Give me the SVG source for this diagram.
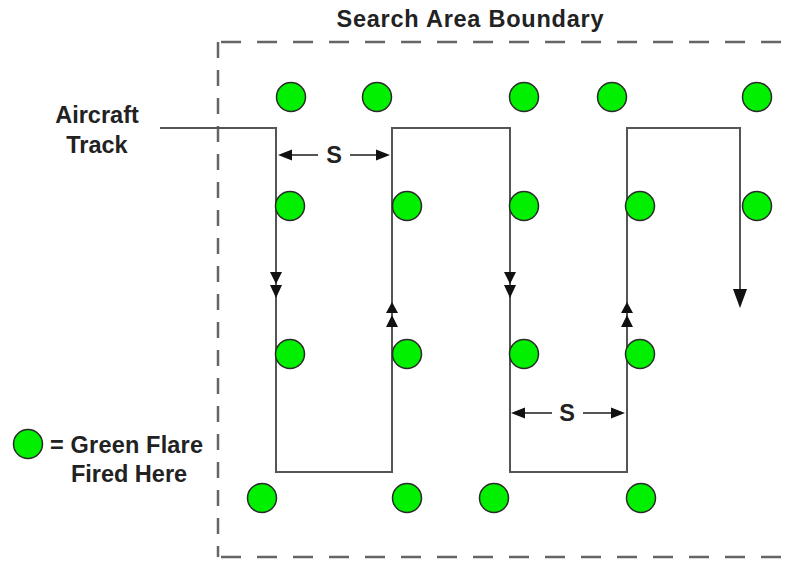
<svg xmlns="http://www.w3.org/2000/svg" width="790" height="561" viewBox="0 0 790 561">
<style>
.t{font-family:"Liberation Sans",Arial,sans-serif;font-weight:bold;font-size:23.5px;fill:#222}
.flare{fill:#00f000;stroke:#2a2a2a;stroke-width:1.5}
.trk{fill:none;stroke:#555;stroke-width:2}
.bnd{fill:none;stroke:#666;stroke-width:2.5}
.ah{fill:#111}
</style>
<rect width="790" height="561" fill="#fff"/>
<g id="boundary">
<path class="bnd" d="M221,42 H790" stroke-dasharray="20 16"/>
<path class="bnd" d="M218,42 V557" stroke-dasharray="16 12"/>
<path class="bnd" d="M221,557 H790" stroke-dasharray="20 16"/>
<text class="t" x="470" y="27" text-anchor="middle" textLength="267" lengthAdjust="spacing">Search Area Boundary</text>
</g>
<g id="connectors">
<path class="trk" d="M160,128 H276 V472 H392 V128 H510 V472 H627 V128 H740 V300"/>
<path class="ah" d="M733,289 L747,289 L740,308 Z"/>
<path class="ah" d="M270,272 L282,272 L276,284 Z M270,285 L282,285 L276,298 Z"/>
<path class="ah" d="M504,272 L516,272 L510,284 Z M504,285 L516,285 L510,298 Z"/>
<path class="ah" d="M386,313 L398,313 L392,302 Z M386,327 L398,327 L392,315 Z"/>
<path class="ah" d="M621,313 L633,313 L627,302 Z M621,327 L633,327 L627,315 Z"/>
</g>
<g id="dim-top">
<path class="trk" d="M288,155 H318 M350,155 H380"/>
<path class="ah" d="M278,155 L292,149.5 L292,160.5 Z M390,155 L376,149.5 L376,160.5 Z"/>
<text class="t" x="334" y="163" text-anchor="middle">S</text>
</g>
<g id="dim-bottom">
<path class="trk" d="M521,413 H552 M583,413 H615"/>
<path class="ah" d="M511,413 L525,407.5 L525,418.5 Z M625,413 L611,407.5 L611,418.5 Z"/>
<text class="t" x="567" y="421" text-anchor="middle">S</text>
</g>
<g id="aircraft-track-label">
<text class="t" x="97" y="123" text-anchor="middle">Aircraft</text>
<text class="t" x="97" y="153" text-anchor="middle">Track</text>
</g>
<g id="flares">
<circle class="flare" cx="291" cy="97" r="14.5"/>
<circle class="flare" cx="377" cy="97" r="14.5"/>
<circle class="flare" cx="524" cy="97" r="14.5"/>
<circle class="flare" cx="612" cy="97" r="14.5"/>
<circle class="flare" cx="757" cy="97" r="14.5"/>
<circle class="flare" cx="290" cy="206" r="14.5"/>
<circle class="flare" cx="407" cy="206" r="14.5"/>
<circle class="flare" cx="524" cy="206" r="14.5"/>
<circle class="flare" cx="640" cy="206" r="14.5"/>
<circle class="flare" cx="757" cy="206" r="14.5"/>
<circle class="flare" cx="290" cy="354" r="14.5"/>
<circle class="flare" cx="407" cy="354" r="14.5"/>
<circle class="flare" cx="524" cy="354" r="14.5"/>
<circle class="flare" cx="640" cy="354" r="14.5"/>
<circle class="flare" cx="262" cy="498" r="14.5"/>
<circle class="flare" cx="407" cy="498" r="14.5"/>
<circle class="flare" cx="494" cy="498" r="14.5"/>
<circle class="flare" cx="641" cy="498" r="14.5"/>
</g>
<g id="legend">
<circle class="flare" cx="28" cy="444" r="14.5"/>
<text class="t" x="50" y="453" textLength="153" lengthAdjust="spacing">= Green Flare</text>
<text class="t" x="129" y="482" text-anchor="middle">Fired Here</text>
</g>
</svg>
